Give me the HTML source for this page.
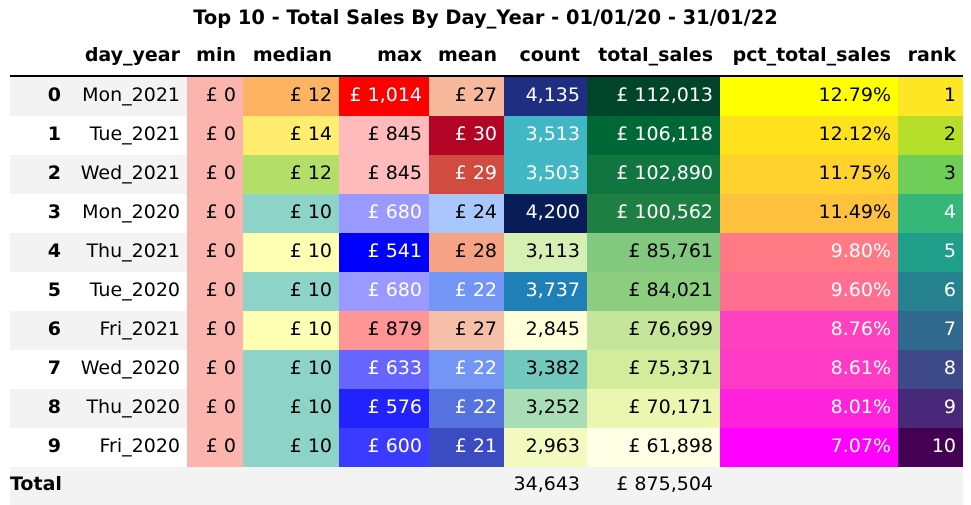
<!DOCTYPE html>
<html><head><meta charset="utf-8">
<style>
body{margin:0;width:971px;height:505px;background:#fff;font-family:"DejaVu Sans","Liberation Sans",sans-serif;overflow:hidden;position:relative}
#title{position:absolute;top:6px;left:0;width:971px;text-align:center;font-weight:bold;font-size:19.4px}
.c{position:absolute;box-sizing:border-box;text-align:right;padding-right:7px;font-size:19px;white-space:nowrap}
.h{font-weight:bold}
#rule{position:absolute;left:10px;width:953px;top:75px;height:2px;background:#000}
</style></head><body>
<div id="title">Top 10 - Total Sales By Day_Year - 01/01/20 - 31/01/22</div>
<div id="rule"></div>
<script>
const headers=["","day_year","min","median","max","mean","count","total_sales","pct_total_sales","rank"];
const days=["Mon_2021","Tue_2021","Wed_2021","Mon_2020","Thu_2021","Tue_2020","Fri_2021","Wed_2020","Thu_2020","Fri_2020"];
const mins=["£ 0","£ 0","£ 0","£ 0","£ 0","£ 0","£ 0","£ 0","£ 0","£ 0"];
const medians=["£ 12","£ 14","£ 12","£ 10","£ 10","£ 10","£ 10","£ 10","£ 10","£ 10"];
const maxs=["£ 1,014","£ 845","£ 845","£ 680","£ 541","£ 680","£ 879","£ 633","£ 576","£ 600"];
const means=["£ 27","£ 30","£ 29","£ 24","£ 28","£ 22","£ 27","£ 22","£ 22","£ 21"];
const counts=["4,135","3,513","3,503","4,200","3,113","3,737","2,845","3,382","3,252","2,963"];
const totals=["£ 112,013","£ 106,118","£ 102,890","£ 100,562","£ 85,761","£ 84,021","£ 76,699","£ 75,371","£ 70,171","£ 61,898"];
const pcts=["12.79%","12.12%","11.75%","11.49%","9.80%","9.60%","8.76%","8.61%","8.01%","7.07%"];
const ranks=["1","2","3","4","5","6","7","8","9","10"];
const totalRow=["Total","","","","","","34,643","£ 875,504","",""];
const medianBg=["#fdb462","#ffed6f","#b3de69","#8dd3c7","#ffffb3","#8dd3c7","#ffffb3","#8dd3c7","#8dd3c7","#8dd3c7"];
const maxBg=["#ff0000","#ffbbbb","#ffbbbb","#9999ff","#0000ff","#9999ff","#ff9595","#6666ff","#2222ff","#3b3bff"];
const meanBg=["#f7b89c","#b40426","#d24b40","#aac7fd","#f6a385","#7396f5","#f5c0a7","#7396f5","#5572df","#3b4cc0"];
const countBg=["#1d2e83","#41b6c4","#42b7c4","#081d58","#d6efb3","#1f80b8","#ffffd9","#73c8bd","#a8ddb5","#f2fabf"];
const totalBg=["#004529","#006837","#117540","#1e7f43","#82c87e","#8ccd80","#c5e69a","#d2ec9c","#ebf7b1","#ffffe5"];
const pctBg=["#ffff00","#ffe21d","#ffd22d","#ffc13e","#ff7a85","#ff6f90","#ff40bf","#ff3ac5","#ff22dd","#ff00ff"];
const rankBg=["#fde725","#b5de2b","#6ece58","#35b779","#1f9e89","#26828e","#31688e","#3e4989","#482878","#440154"];
const edges=[10,68,187,243,339,429,504,587,720,898,963];
const names=["index","day-year","min","median","max","mean","count","total-sales","pct-total-sales","rank"];
function lin(c){c/=255;return c<=0.03928?c/12.92:Math.pow((c+0.055)/1.055,2.4);}
function lum(h){const r=parseInt(h.substr(1,2),16),g=parseInt(h.substr(3,2),16),b=parseInt(h.substr(5,2),16);return 0.2126*lin(r)+0.7152*lin(g)+0.0722*lin(b);}
function cell(col,top,h,text,bg,bold,name){
  const d=document.createElement('div');
  d.className='c'+(bold?' h':'');
  d.style.left=edges[col]+'px';d.style.width=(edges[col+1]-edges[col])+'px';
  d.style.top=top+'px';d.style.height=h+'px';d.style.lineHeight=(h-3)+'px';
  if(bg){d.style.background=bg;if(lum(bg)<0.408)d.style.color='#fff';}
  if(col===0&&text==='Total'){d.style.textAlign='left';d.style.paddingLeft='0';}
  d.textContent=text;
  
  
  document.body.appendChild(d);
}
headers.forEach((t,i)=>{ if(t) cell(i,38,38,t,null,true,'header-'+names[i]); });
const rowH=39,top0=77;
for(let r=0;r<10;r++){
  const y=top0+r*rowH, g=(r%2===0)?'#f3f3f3':null;
  const vals=[String(r),days[r],mins[r],medians[r],maxs[r],means[r],counts[r],totals[r],pcts[r],ranks[r]];
  const bgs=[g,g,'#fbb4ae',medianBg[r],maxBg[r],meanBg[r],countBg[r],totalBg[r],pctBg[r],rankBg[r]];
  vals.forEach((v,i)=>cell(i,y,rowH,v,bgs[i],i===0,'cell-'+names[i]+'-row-'+r));
}
const ty=top0+10*rowH;
totalRow.forEach((v,i)=>cell(i,ty,505-ty,v,'#f3f3f3',i===0,'total-'+names[i]));
</script>
</body></html>
